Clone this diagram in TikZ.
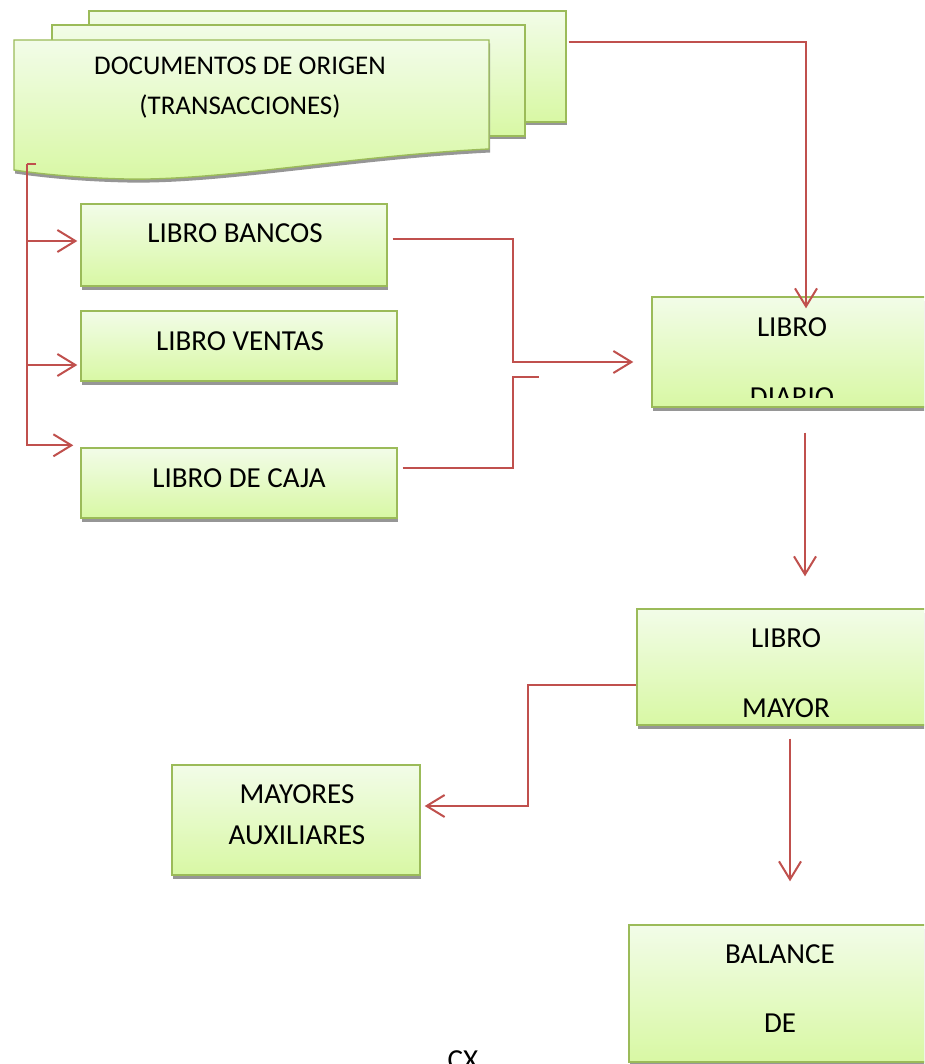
\documentclass[tikz,border=0pt]{standalone}
\usepackage{fontspec}
\setmainfont{Carlito}
\usetikzlibrary{arrows.meta,calc,shadows}
\definecolor{cred}{RGB}{192,80,77}
\definecolor{bgreen}{RGB}{155,187,89}
\definecolor{gtop}{RGB}{242,252,232}
\definecolor{gbot}{RGB}{216,248,164}
\definecolor{shgray}{RGB}{150,150,150}
\newcommand\bigfont{\fontsize{29}{34}\selectfont}
\newcommand\docfont{\fontsize{27}{32}\selectfont}
\tikzset{
  box/.style={draw=bgreen, line width=1.4pt, top color=gtop, bottom color=gbot,
    drop shadow={shadow xshift=1.2pt, shadow yshift=-3.5pt, fill=shgray, opacity=1}, inner sep=0pt},
  lbl/.style={anchor=base, font=\bigfont, inner sep=0pt},
  conn/.style={draw=cred, line width=2pt},
  arr/.style={conn, -{Straight Barb[length=18pt,width=22pt]}},
}
\begin{document}
\begin{tikzpicture}[x=1pt,y=-1pt]
\clip (0,0) rectangle (924,1064);
\fill[white] (0,0) rectangle (924,1064);
% multidocument
\node[box, minimum width=477pt, minimum height=111pt] (docback) at (327.5,66.5) {};
\node[box, minimum width=473pt, minimum height=111pt] (docmid) at (288.5,80.5) {};
\path[box] (14,40) -- (489,40) -- (489,149) .. controls (350,156) and (220,181) .. (126,179) .. controls (80,178) and (40,174) .. (14,170) -- cycle;
\node[lbl, font=\docfont] (tdoc1) at (240,75) {DOCUMENTOS DE ORIGEN};
\node[lbl, font=\docfont] (tdoc2) at (240,115) {(TRANSACCIONES)};
% boxes
\node[box, minimum width=306pt, minimum height=82pt] (bancos) at (234,245) {};
\node[box, minimum width=316pt, minimum height=70pt] (ventas) at (239,346) {};
\node[box, minimum width=316pt, minimum height=70pt] (caja) at (239,483) {};
\node[box, minimum width=280pt, minimum height=110pt] (diario) at (792,352) {};
\node[box, minimum width=298pt, minimum height=116pt] (mayor) at (786,667) {};
\node[box, minimum width=248pt, minimum height=110pt] (aux) at (296,820) {};
\node[box, minimum width=302pt, minimum height=137pt] (balance) at (780,993.5) {};
% texts
\node[lbl] (tbancos) at (235,243) {LIBRO BANCOS};
\node[lbl] (tventas) at (240,350) {LIBRO VENTAS};
\node[lbl] (tcaja) at (239,487) {LIBRO DE CAJA};
\node[lbl] (tdiario1) at (792,336) {LIBRO};
\begin{scope}
\clip (652,297) rectangle (932,397);
\node[lbl] (tdiario2) at (792,406) {DIARIO};
\end{scope}
\node[lbl] (tmayor1) at (786,647) {LIBRO};
\node[lbl] (tmayor2) at (786,717) {MAYOR};
\node[lbl] (taux1) at (297,803) {MAYORES};
\node[lbl] (taux2) at (297,844) {AUXILIARES};
\node[lbl] (tbal1) at (780,963) {BALANCE};
\node[lbl] (tbal2) at (780,1032) {DE};
\node[lbl] (cx) at (463,1069) {CX};
% connectors
\coordinate (dstub) at (36,164);
\coordinate (bus) at (27,164);
\draw[conn] (dstub) -- (bus);
\coordinate (tipC) at ($(caja.north west)+(-7,-2)$);
\coordinate (tipB) at ($(bancos.west)+(-3,-4)$);
\coordinate (tipV) at ($(ventas.west)+(-3,19)$);
\draw[arr] (bus) |- (tipC);
\draw[arr] (bus |- tipB) -- (tipB);
\draw[arr] (bus |- tipV) -- (tipV);
\coordinate (dstart) at ($(docback.east)+(2,-24.5)$);
\coordinate (dtop) at ($(diario.north)+(14,12)$);
\draw[arr] (dstart) -| (dtop);
\coordinate (jx) at (513,0);
\coordinate (bstart) at ($(bancos.east)+(5,-6)$);
\coordinate (dtip) at ($(diario.west)+(-18,10)$);
\draw[arr] (bstart) -| (jx |- dtip) -- (dtip);
\coordinate (cstart) at ($(caja.east)+(5,-15)$);
\coordinate (cend) at (539,377);
\draw[conn] (cstart) -| (jx |- cend) -- (cend);
\draw[arr] ($(diario.south)+(13,25)$) -- ($(mayor.north)+(19,-32)$);
\coordinate (jm) at (528,0);
\coordinate (mstart) at ($(mayor.west)+(0,18)$);
\coordinate (atip) at ($(aux.east)+(4,-14)$);
\draw[arr] (mstart) -| (jm |- atip) -- (atip);
\draw[arr] ($(mayor.south)+(4,13)$) -- ($(balance.north)+(10,-43)$);
\end{tikzpicture}
\end{document}
